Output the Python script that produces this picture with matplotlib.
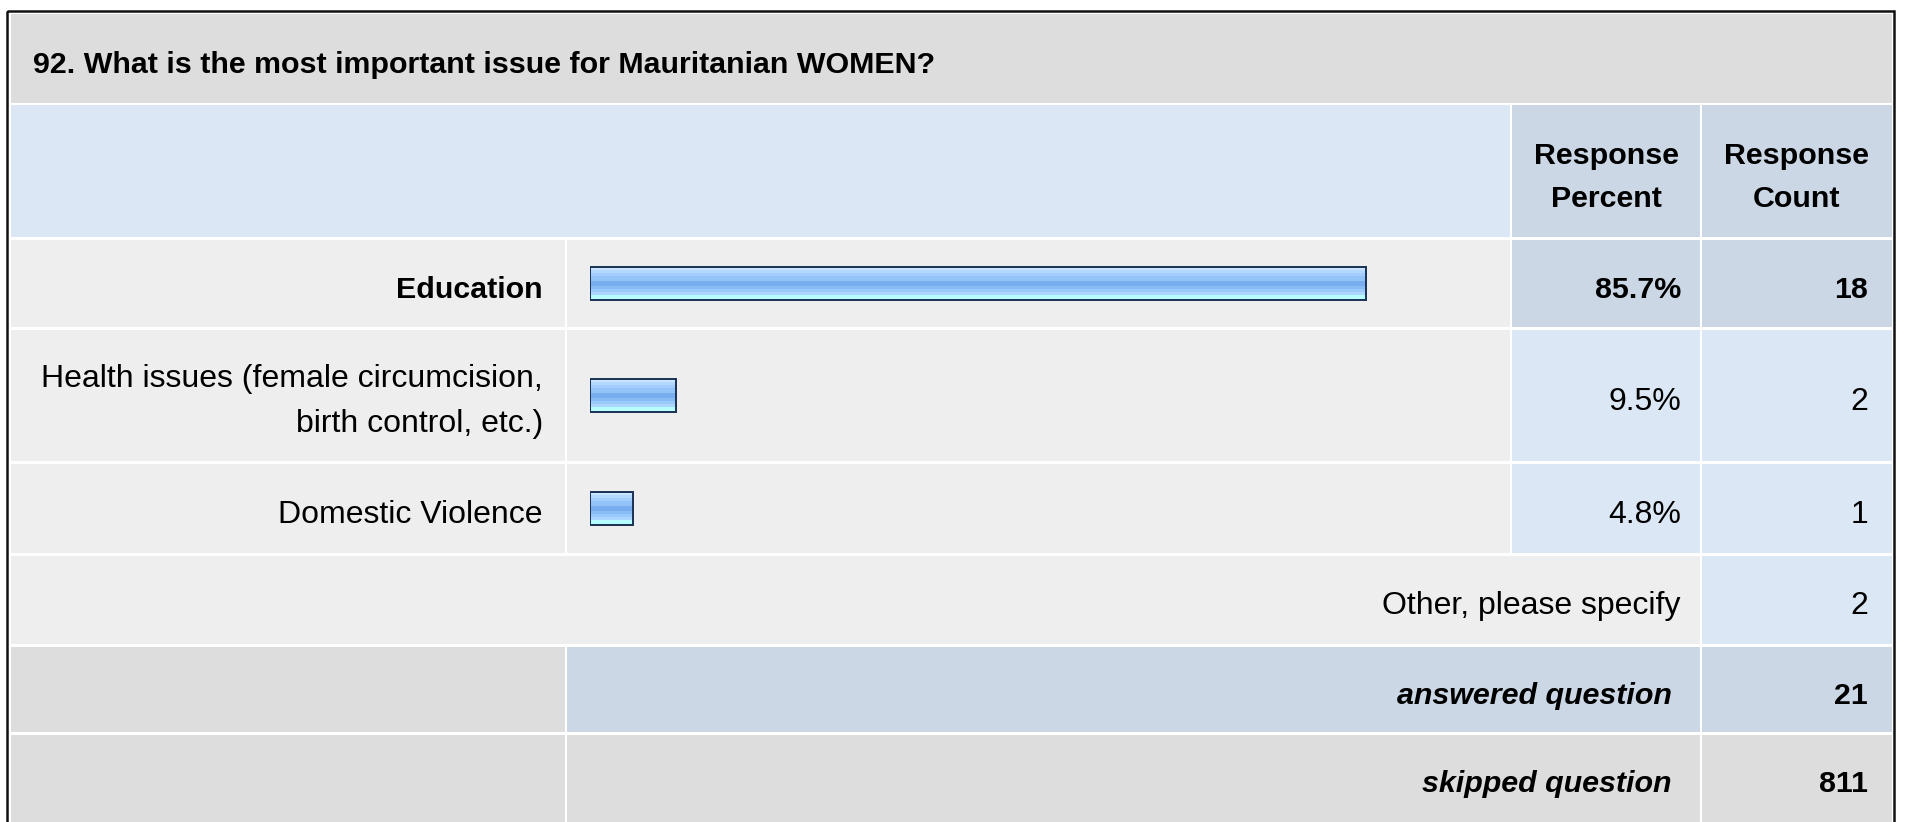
import matplotlib
matplotlib.use("Agg")
import matplotlib.pyplot as plt
import numpy as np
from matplotlib.patches import Rectangle
from matplotlib.colors import to_rgb

plt.rcParams['font.family'] = ['Liberation Sans', 'DejaVu Sans']

# survey results
question = "92. What is the most important issue for Mauritanian WOMEN?"
answers = ["Education",
           "Health issues (female circumcision,\nbirth control, etc.)",
           "Domestic Violence"]
percents = [85.7, 9.5, 4.8]
counts = [18, 2, 1]
other_label = "Other, please specify"
other_count = 2
answered = 21
skipped = 811

W, H = 1911, 822
FS_B = 21.9     # bold text
FS_R = 23.0     # regular text
BASE = 14.2     # baseline offset below cell centre
LINE = 45       # line step for wrapped labels

# table grid in pixels (x from left, y from top)
x_label = (11, 565)
x_bar = (567, 1510)
x_pct = (1512, 1700)
x_cnt = (1702, 1892)
rows = {
    "title": (14, 103),
    "header": (105, 237),
    "ans0": (240, 327),
    "ans1": (330, 461),
    "ans2": (464, 553),
    "other": (556, 644),
    "answered": (647, 732),
    "skipped": (735, 830),
}

GREY = "#dddddd"
LIGHT = "#eeeeee"
BLUE_LT = "#dce7f5"
BLUE_DK = "#cbd7e5"

fig = plt.figure(figsize=(W / 100, H / 100), dpi=100)
fig.patch.set_facecolor("white")
ax = fig.add_axes([0, 0, 1, 1])
ax.set_xlim(0, W)
ax.set_ylim(H, 0)
ax.axis("off")


def cell(xr, yr, color):
    ax.add_patch(Rectangle((xr[0], yr[0]), xr[1] - xr[0], yr[1] - yr[0],
                           facecolor=color, edgecolor="none", zorder=1))


def mid(r):
    return (r[0] + r[1]) / 2


def put(x, yc, txt, ha="right", bold=False, italic=False, step=LINE):
    # write text line by line, baselines centred around yc
    lines = txt.split("\n")
    n = len(lines)
    for k, line in enumerate(lines):
        y = yc + BASE + (k - (n - 1) / 2) * step
        ax.text(x, y, line, fontsize=FS_B if bold else FS_R,
                fontweight="bold" if bold else "normal",
                style="italic" if italic else "normal",
                ha=ha, va="baseline", zorder=3)


# title row
cell((x_label[0], x_cnt[1]), rows["title"], GREY)
put(33, mid(rows["title"]), question, ha="left", bold=True)

# header row
cell((x_label[0], x_bar[1]), rows["header"], BLUE_LT)
cell(x_pct, rows["header"], BLUE_DK)
cell(x_cnt, rows["header"], BLUE_DK)
for xr, txt in [(x_pct, "Response\nPercent"), (x_cnt, "Response\nCount")]:
    put(mid(xr), mid(rows["header"]), txt, ha="center", bold=True, step=43)

# answer rows
top_idx = int(np.argmax(percents))
for i, (lab, p, c) in enumerate(zip(answers, percents, counts)):
    yr = rows["ans%d" % i]
    hi = i == top_idx
    cell(x_label, yr, LIGHT)
    cell(x_bar, yr, LIGHT)
    cell(x_pct, yr, BLUE_DK if hi else BLUE_LT)
    cell(x_cnt, yr, BLUE_DK if hi else BLUE_LT)
    put(543, mid(yr), lab, bold=hi)
    put(x_pct[1] - 19, mid(yr), "%.1f%%" % p, bold=hi)
    put(x_cnt[1] - 24, mid(yr), str(c), bold=hi)

# other row
cell((x_label[0], x_pct[1]), rows["other"], LIGHT)
cell(x_cnt, rows["other"], BLUE_LT)
put(x_pct[1] - 20, mid(rows["other"]), other_label)
put(x_cnt[1] - 24, mid(rows["other"]), str(other_count))

# summary rows
for key, label, val, col in [("answered", "answered question", answered, BLUE_DK),
                             ("skipped", "skipped question", skipped, GREY)]:
    yr = rows[key]
    yc = mid(yr) if key == "answered" else mid((yr[0], yr[0] + 85))
    cell(x_label, yr, GREY)
    cell((x_bar[0], x_pct[1]), yr, col)
    cell(x_cnt, yr, col)
    put(x_pct[1] - 28, yc, label, bold=True, italic=True)
    put(x_cnt[1] - 24, yc, str(val), bold=True)

# outer frame
ax.add_patch(Rectangle((7, 11), 1894 - 7, 840, facecolor="none",
                       edgecolor="#111111", linewidth=2.5 * 72 / 100, zorder=4))

# bars: percent scale mapped onto the bar column
bx0, bx1 = 590, 1495
ax_bar = fig.add_axes([bx0 / W, 0, (bx1 - bx0) / W, 1])
ax_bar.set_xlim(0, 100)
ax_bar.set_ylim(H, 0)
ax_bar.axis("off")
ax_bar.patch.set_alpha(0)

stripes = [("#c8e4ff", 3), ("#b2d8ff", 3), ("#a2cdfd", 3), ("#93c3f9", 5),
           ("#78aef0", 5), ("#88bcf5", 3), ("#9ac9fb", 3), ("#aad6ff", 3),
           ("#b6fdff", 5)]
grad = np.array([to_rgb(c) for c, n in stripes for _ in range(n)])[:, None, :]

centers = [mid(rows["ans%d" % i]) for i in range(len(percents))]
bars = ax_bar.barh(centers, percents, height=33, left=0, facecolor="none",
                   edgecolor="#1d3557", linewidth=2 * 72 / 100, zorder=3)
for b in bars:
    x, y = b.get_x(), b.get_y()
    im = ax_bar.imshow(grad, extent=(x, x + b.get_width(), y + b.get_height(), y),
                       aspect="auto", interpolation="nearest", zorder=2)
    im.set_clip_path(b)
ax_bar.set_xlim(0, 100)
ax_bar.set_ylim(H, 0)

fig.savefig("out.png", dpi=100)
